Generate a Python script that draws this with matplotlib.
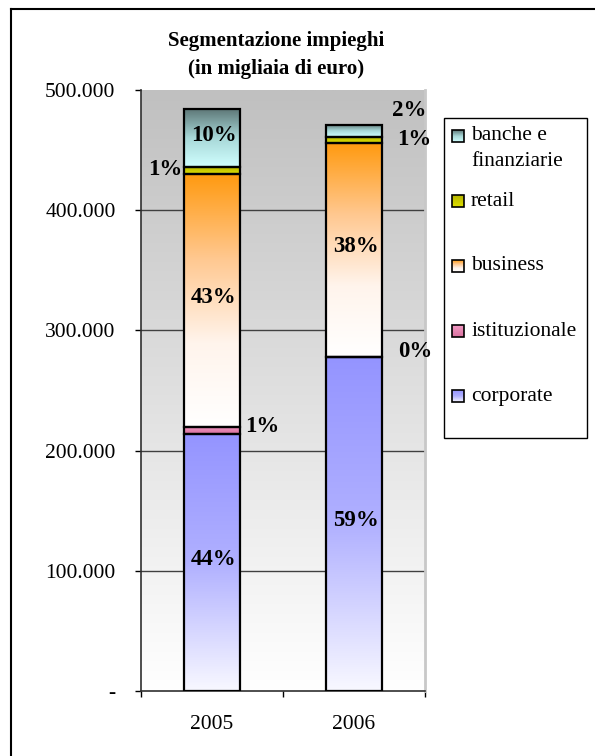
import numpy as np
import matplotlib.pyplot as plt
from matplotlib.colors import LinearSegmentedColormap
from matplotlib.patches import Rectangle

years = ['2005', '2006']
series = ['corporate', 'istituzionale', 'business', 'retail', 'banche e\nfinanziarie']
corporate = [214000, 278000]
istituzionale = [6000, 0]
business = [210000, 178000]
retail = [6000, 5000]
banche = [48000, 10000]
yticks = [0, 100000, 200000, 300000, 400000, 500000]
ytick_labels = ['-', '100.000', '200.000', '300.000', '400.000', '500.000']

# gradient stops (top -> bottom) for every series
gradients = {
    'corporate': ['#9494FF', '#B0B0FF', '#F8F8FF'],
    'istituzionale': ['#F29AC4', '#D8709E'],
    'business': ['#FF9A10', '#FFC890', '#FFF4EC', '#FFFFFF'],
    'retail': ['#B4B400', '#E0E000'],
    'banche e\nfinanziarie': ['#5E7878', '#A8D8D8', '#D0FFFF'],
}

# label placement for the thin segments: (dx px, dy px, ha)
label_place = {
    (0, 'retail'): (-30, 1, 'right'),
    (0, 'istituzionale'): (33, 4, 'left'),
    (1, 'banche e\nfinanziarie'): (38, 20, 'left'),
    (1, 'retail'): (43, 0, 'left'),
    (1, 'istituzionale'): (44, 5, 'left'),
}

plt.rcParams['font.family'] = ['Liberation Serif', 'DejaVu Serif']
PX = 0.72  # points per pixel at dpi 100

fig = plt.figure(figsize=(5.95, 7.56), dpi=100)
ax = fig.add_axes([141 / 595, 1 - 691 / 756, 284 / 595, 601 / 756])

def cmap_of(name):
    return LinearSegmentedColormap.from_list(name.split()[0], gradients[name])

grad = np.linspace(0, 1, 256).reshape(-1, 1)

# plot area background
ax.imshow(grad, cmap=LinearSegmentedColormap.from_list('bg', ['#C0C0C0', '#FFFFFF']),
          extent=(0, 1, 0, 1), transform=ax.transAxes, aspect='auto', zorder=0)

for t in yticks[1:-1]:
    ax.axhline(t, color='#404040', lw=1, zorder=1)

x = np.arange(len(years))
values = [corporate, istituzionale, business, retail, banche]
totals = np.sum(values, axis=0)
bottom = np.zeros(len(years))
for name, vals in zip(series, values):
    bars = ax.bar(x, vals, 0.4, bottom=bottom, facecolor='none',
                  edgecolor='black', lw=1.6, zorder=3)
    for i, b in enumerate(bars):
        h = b.get_height()
        if h > 0:
            ax.imshow(grad, cmap=cmap_of(name), aspect='auto', zorder=2,
                      interpolation='bicubic',
                      extent=(b.get_x(), b.get_x() + b.get_width(), b.get_y(), b.get_y() + h))
        pct = round(vals[i] / totals[i] * 100)
        dx, dy, ha = label_place.get((i, name), (2, 3, 'center'))
        ax.annotate(f'{pct}%', (b.get_x() + b.get_width() / 2, b.get_y() + h / 2),
                    xytext=(dx * PX, dy * PX), textcoords='offset points',
                    ha=ha, va='center', fontsize=16.5, fontweight='bold', zorder=5)
    bottom += np.array(vals)

ax.set_xlim(-0.5, len(years) - 0.5)
ax.set_ylim(0, 500000)
ax.set_yticks(yticks, ytick_labels)
ax.set_xticks(x, years)
ax.set_xticks(np.arange(len(years) + 1) - 0.5, minor=True)
ax.tick_params(axis='y', direction='out', length=6 * PX, width=1, pad=14, labelsize=15.5)
ax.tick_params(axis='x', which='major', length=0, pad=17, labelsize=15.5)
ax.tick_params(axis='x', which='minor', direction='out', length=6 * PX, width=1)
ax.spines['top'].set_visible(False)
ax.spines['right'].set_color('#C8C8C8')
ax.spines['right'].set_linewidth(2)
for s in ('left', 'bottom'):
    ax.spines[s].set_color('#303030')
    ax.spines[s].set_linewidth(1.2)

# overlay in pixel coordinates for frame, title and legend
ov = fig.add_axes([0, 0, 1, 1], zorder=5)
ov.set_xlim(0, 595)
ov.set_ylim(756, 0)
ov.axis('off')
ov.plot([11, 11], [756, 9], color='black', lw=1.5)
ov.plot([11, 595], [9, 9], color='black', lw=1.5)

ov.text(276, 41, 'Segmentazione impieghi', ha='center', va='center',
        fontsize=15, fontweight='bold')
ov.text(276, 69, '(in migliaia di euro)', ha='center', va='center',
        fontsize=15, fontweight='bold')

ov.add_patch(Rectangle((444, 118), 143, 320, facecolor='white', edgecolor='black', lw=1))
for k, name in enumerate(series[::-1]):
    ym = 136 + 65 * k
    ov.imshow(grad, cmap=cmap_of(name), aspect='auto', zorder=3,
              extent=(452, 464, ym + 6, ym - 6))
    ov.add_patch(Rectangle((452, ym - 6), 12, 12, facecolor='none',
                           edgecolor='black', lw=1.2, zorder=4))
    for j, line in enumerate(name.split('\n')):
        ov.text(471, ym + 25 * j, line, ha='left', va='center', fontsize=15.5)
ov.set_xlim(0, 595)
ov.set_ylim(756, 0)

fig.savefig('out.png', dpi=100)
